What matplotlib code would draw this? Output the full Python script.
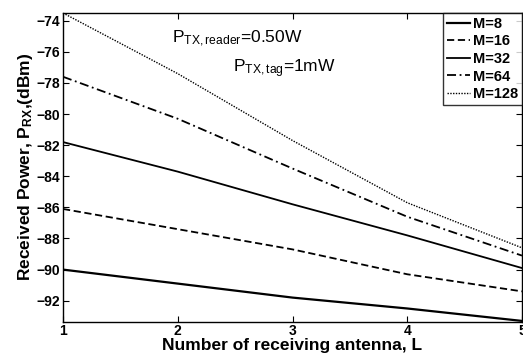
import matplotlib
matplotlib.use("Agg")
import matplotlib.pyplot as plt

plt.rcParams['font.family'] = ['Liberation Sans', 'DejaVu Sans']
plt.rcParams['mathtext.fontset'] = 'custom'
plt.rcParams['mathtext.rm'] = 'Liberation Sans'
plt.rcParams['mathtext.it'] = 'Liberation Sans'
plt.rcParams['mathtext.bf'] = 'Liberation Sans:bold'

L = [1, 2, 3, 4, 5]
labels = ['M=8', 'M=16', 'M=32', 'M=64', 'M=128']
m8 = [-90.0, -90.9, -91.8, -92.5, -93.3]
m16 = [-86.1, -87.4, -88.7, -90.3, -91.4]
m32 = [-81.8, -83.7, -85.8, -87.8, -89.9]
m64 = [-77.6, -80.3, -83.5, -86.6, -89.1]
m128 = [-73.5, -77.4, -81.7, -85.7, -88.6]
yticks = [-74, -76, -78, -80, -82, -84, -86, -88, -90, -92]

fig = plt.figure(figsize=(5.23, 3.59), dpi=100)
ax = fig.add_axes([63/523, 1-321.7/359, (522-63)/523, (321.7-13)/359])

ax.plot(L, m8, color='black', lw=1.6, ls='-', label=labels[0])
ax.plot(L, m16, color='black', lw=1.3, ls=(0, (4, 2)), label=labels[1])
ax.plot(L, m32, color='black', lw=1.3, ls='-', label=labels[2])
ax.plot(L, m64, color='black', lw=1.3, ls=(0, (5, 2, 1, 2)), label=labels[3])
ax.plot(L, m128, color='black', lw=1.0, ls=(0, (1, 1)), label=labels[4])

ax.set_xlim(1, 5)
ax.set_ylim(-93.35, -73.5)
ax.set_xticks([1, 2, 3, 4, 5])
ax.set_yticks(yticks)
ax.tick_params(direction='in', top=True, right=True, length=4, width=0.8, labelsize=10, pad=2)
for lab in ax.get_xticklabels() + ax.get_yticklabels():
    lab.set_fontweight('bold')
for s in ax.spines.values():
    s.set_linewidth(1.0)

ax.set_xlabel('Number of receiving antenna, L', fontsize=12.5, fontweight='bold', labelpad=0)
ax.set_ylabel(r'Received Power, $\mathbf{P_{RX}}$,(dBm)', fontsize=12.5, fontweight='bold', labelpad=1)

ax.text(0.238, 0.915, r'$\mathregular{P_{TX,reader}}$=0.50W', transform=ax.transAxes,
        fontsize=12.5, va='center', ha='left')
ax.text(0.37, 0.82, r'$\mathregular{P_{TX,tag}}$=1mW', transform=ax.transAxes,
        fontsize=12.5, va='center', ha='left')

leg = ax.legend(loc='upper right', prop={'weight': 'bold', 'size': 10.5},
                frameon=True, fancybox=False, borderaxespad=0.0, handlelength=1.6,
                handletextpad=0.2, labelspacing=0.25, borderpad=0.25)
leg.get_frame().set_edgecolor('black')
leg.get_frame().set_linewidth(1.0)

fig.savefig('out.png', dpi=100)
